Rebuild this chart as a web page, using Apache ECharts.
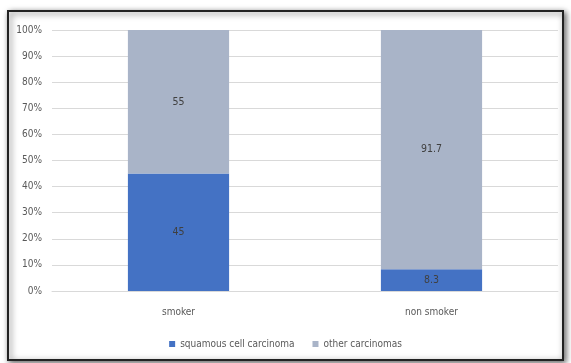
<!DOCTYPE html>
<html>
<head>
<meta charset="utf-8">
<script src="https://cdn.jsdelivr.net/npm/echarts@6/dist/echarts.min.js"></script>
<style>
  html, body { margin: 0; padding: 0; background: #fff; }
  #chart { width: 571px; height: 363px; }
</style>
</head>
<body>
<div id="chart"></div>
<script>
var categories = ['smoker', 'non smoker'];
var squamous = [45, 8.3];
var other = [55, 91.7];

var font = '"DejaVu Sans Condensed", "Liberation Sans Narrow", sans-serif';
var myChart = echarts.init(document.getElementById('chart'));
var option = {
  animation: false,
  textStyle: { fontFamily: font },
  graphic: [{
    type: 'rect',
    shape: { x: 8, y: 11, width: 555, height: 349 },
    style: { fill: '#fff', stroke: '#222', lineWidth: 2,
      shadowBlur: 6, shadowColor: 'rgba(0,0,0,0.6)', shadowOffsetX: 2, shadowOffsetY: 2 },
    z: -10
  }],
  grid: { left: 52, right: 13, top: 30, bottom: 72 },
  legend: {
    bottom: 9,
    left: 'center',
    itemWidth: 6,
    itemHeight: 6,
    itemGap: 18,
    icon: 'rect',
    textStyle: { color: '#595959', fontSize: 10, fontFamily: font },
    data: ['squamous cell carcinoma', 'other carcinomas']
  },
  xAxis: {
    type: 'category',
    data: categories,
    axisLine: { show: true, lineStyle: { color: '#d9d9d9' } },
    axisTick: { show: false },
    axisLabel: { color: '#595959', fontSize: 10, margin: 16, fontFamily: font }
  },
  yAxis: {
    type: 'value',
    min: 0,
    max: 100,
    interval: 10,
    axisLine: { show: false },
    axisTick: { show: false },
    axisLabel: { color: '#595959', fontSize: 10, formatter: '{value}%', margin: 10, fontFamily: font },
    splitLine: { lineStyle: { color: '#d9d9d9' } }
  },
  series: [{
    name: 'squamous cell carcinoma',
    type: 'bar',
    stack: 'total',
    barWidth: '40%',
    data: squamous,
    itemStyle: { color: '#4472C4' },
    label: { show: true, position: 'inside', color: '#404040', fontSize: 10.5, fontFamily: font }
  }, {
    name: 'other carcinomas',
    type: 'bar',
    stack: 'total',
    barWidth: '40%',
    data: other,
    itemStyle: { color: '#A9B4C8' },
    label: { show: true, position: 'inside', color: '#404040', fontSize: 10.5, fontFamily: font }
  }]
};
myChart.setOption(option);
</script>
</body>
</html>
